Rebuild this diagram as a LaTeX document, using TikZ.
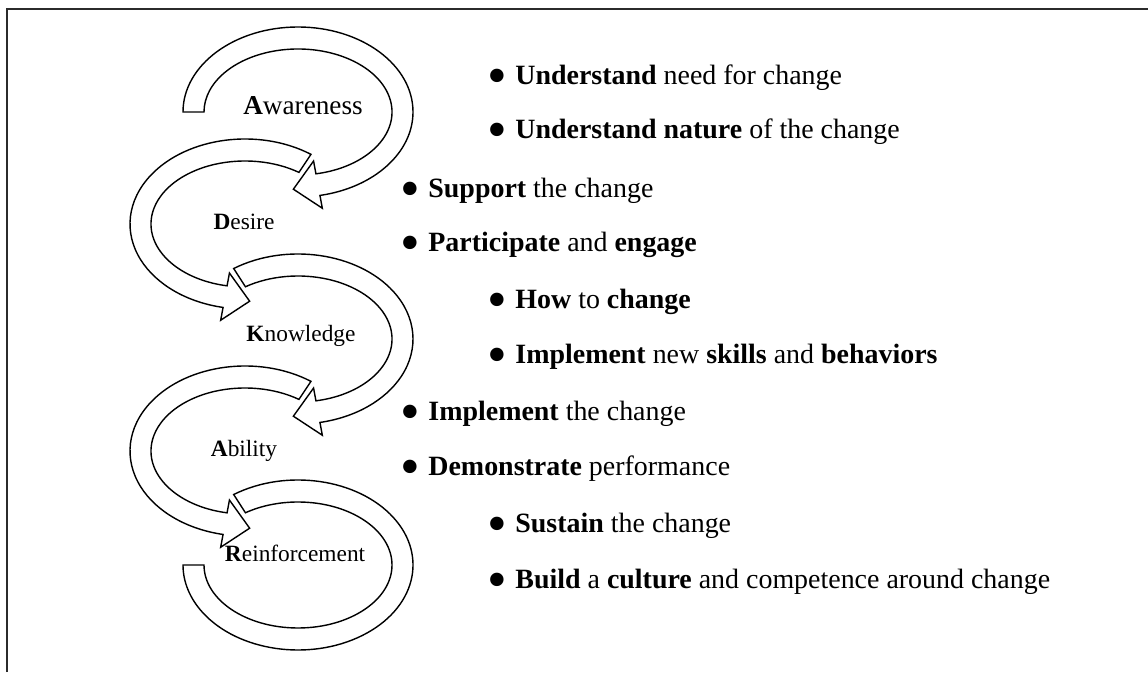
\documentclass[tikz,border=0pt]{standalone}
\usepackage{fontspec}
\setmainfont{Liberation Serif}
\usetikzlibrary{calc}
\definecolor{AdkarFrame}{HTML}{2B2B2B}
\newcommand{\Bul}{\raisebox{-0.33em}{\fontsize{32}{32}\selectfont\textbullet}\hspace{0.3em}}
% curved band with an arrow head: name, centre, start angle, end angle, turn of the tip
\newcommand{\LoopArrow}[5]{%
  \coordinate (#1-o) at ($(#2)+(#4:115 and 85)$);
  \coordinate (#1-i) at ($(#2)+(#4:94 and 63)$);
  \coordinate (#1-m) at ($(#1-o)!0.5!(#1-i)$);
  \draw[band] ($(#2)+(#3:115 and 85)$)
    arc[start angle=#3,end angle=#4,x radius=115,y radius=85]
    -- ($(#1-m)!0.48cm!(#1-o)$) -- ($(#1-m)!0.5cm!#5:(#1-o)$)
    -- ($(#1-m)!0.48cm!(#1-i)$) -- (#1-i)
    arc[start angle=#4,end angle=#3,x radius=94,y radius=63] -- cycle;
}
% same band, plain cut at both ends
\newcommand{\LoopBand}[3]{%
  \draw[band] ($(#1)+(#2:115 and 85)$)
    arc[start angle=#2,end angle=#3,x radius=115,y radius=85]
    -- ($(#1)+(#3:94 and 63)$)
    arc[start angle=#3,end angle=#2,x radius=94,y radius=63] -- cycle;
}

\begin{document}
\begin{tikzpicture}[x=0.02cm,y=0.02cm,
    band/.style={draw=black,fill=white,line width=0.8pt,line join=miter},
    frame/.style={draw=AdkarFrame,line width=1.4pt},
    phase/.style={anchor=base,inner sep=0pt,font=\fontsize{13.3}{16}\selectfont},
    bulletline/.style={anchor=base west,inner sep=0pt,font=\fontsize{15.9}{19}\selectfont}
  ]
  \useasboundingbox (0,0) rectangle (1148,672);
  \draw[frame] (7,0) -- (7,663) -- (1148,663);

  % the five loops, top to bottom
  \coordinate (cA) at (298,560);
  \coordinate (cD) at (245,448);
  \coordinate (cK) at (298,333);
  \coordinate (cB) at (245,221);
  \coordinate (cR) at (298,107);
  \LoopArrow{la}{cA}{180}{-79}{-90}
  \LoopArrow{ld}{cD}{55}{259}{90}
  \LoopArrow{lk}{cK}{124}{-79}{-90}
  \LoopArrow{lb}{cB}{55}{259}{90}
  \LoopBand{cR}{124}{-180}

  \node[phase,font=\fontsize{15.5}{18}\selectfont] (aware) at (303,557) {\textbf{A}wareness};
  \node[phase] (desire) at (244,442) {\textbf{D}esire};
  \node[phase] (know) at (301,330) {\textbf{K}nowledge};
  \node[phase] (able) at (244,215) {\textbf{A}bility};
  \node[phase] (reinf) at (295,110) {\textbf{R}einforcement};

  \node[bulletline] (a1) at (487,587) {\Bul\textbf{Understand} need for change};
  \node[bulletline] (a2) at (487,533) {\Bul\textbf{Understand nature} of the change};
  \node[bulletline] (d1) at (400,474) {\Bul\textbf{Support} the change};
  \node[bulletline] (d2) at (400,420) {\Bul\textbf{Participate} and \textbf{engage}};
  \node[bulletline] (k1) at (487,363) {\Bul\textbf{How} to \textbf{change}};
  \node[bulletline] (k2) at (487,308) {\Bul\textbf{Implement} new \textbf{skills} and \textbf{behaviors}};
  \node[bulletline] (b1) at (400,251) {\Bul\textbf{Implement} the change};
  \node[bulletline] (b2) at (400,196) {\Bul\textbf{Demonstrate} performance};
  \node[bulletline] (r1) at (487,139) {\Bul\textbf{Sustain} the change};
  \node[bulletline] (r2) at (487,83) {\Bul\textbf{Build} a \textbf{culture} and competence around change};
\end{tikzpicture}
\end{document}
